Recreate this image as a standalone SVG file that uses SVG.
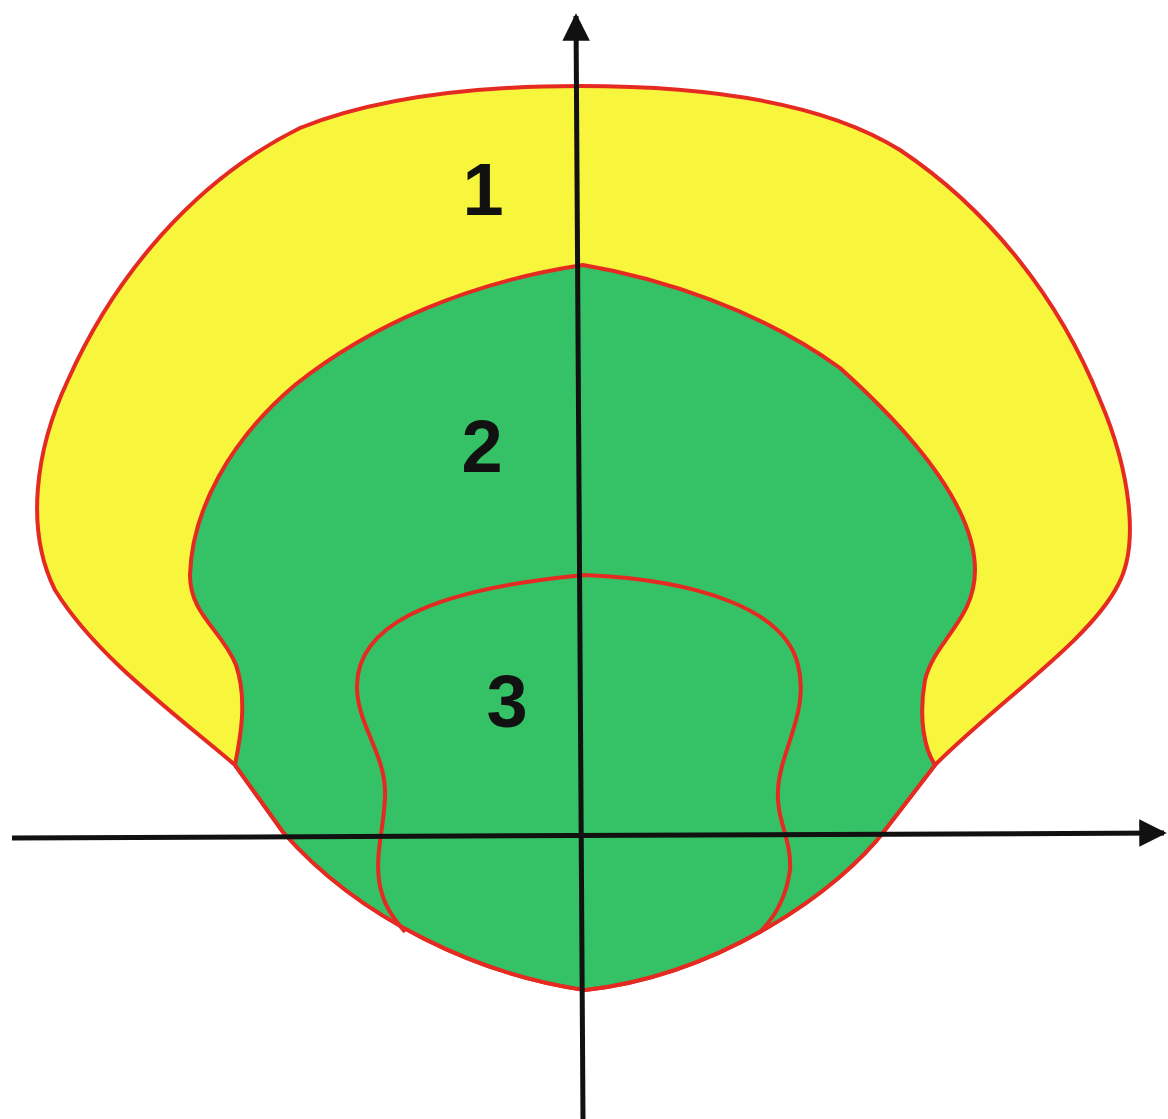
<svg xmlns="http://www.w3.org/2000/svg" width="1168" height="1119" viewBox="0 0 1168 1119">
<style>
.reg{stroke:#e52a22;stroke-width:4;stroke-linejoin:round}
.y{fill:#f7f53c}
.g{fill:#35c165}
.ax{stroke:#111;stroke-width:5;fill:none}
.lbl{font-family:"Liberation Sans",Arial,sans-serif;font-weight:bold;font-size:74px;fill:#111;text-anchor:middle}
</style>
<defs>
<marker id="ah" viewBox="0 0 10 10" refX="9" refY="5" markerWidth="5.5" markerHeight="5.5" orient="auto" markerUnits="strokeWidth">
<path d="M0,0 L10,5 L0,10 Z" fill="#111"/>
</marker>
</defs>
<rect width="1168" height="1119" fill="#fff"/>
<g id="region1">
<path class="reg y" d="M580,86 C700,86 820,100 900,150 C990,210 1060,300 1100,400 C1130,470 1140,545 1118,585 C1090,640 1000,700 935,765 L885,830 C840,890 720,975 585,990 C480,975 360,920 283,832 L235,765 C170,710 95,655 55,590 C25,530 35,450 68,380 C115,275 195,180 300,128 C380,96 480,86 580,86 Z"/>
</g>
<g id="region2">
<path class="reg g" d="M583,265 C660,278 760,310 840,368 C920,440 975,510 975,570 C975,620 935,640 925,680 C918,720 925,750 935,765 L885,830 C840,890 720,975 585,990 C480,975 360,920 283,832 L235,765 C240,740 248,700 236,665 C222,630 190,615 190,575 C192,510 230,440 295,385 C370,325 470,282 583,265 Z"/>
</g>
<g id="region3">
<path class="reg" fill="none" d="M405,932 C395,920 382,905 379,880 C375,850 386,820 385,790 C384,752 356,722 357,685 C358,630 420,590 585,575 C700,580 785,610 798,665 C810,712 780,750 778,790 C776,820 792,840 790,870 C786,900 772,920 760,932"/>
</g>
<g id="region-labels">
<text class="lbl" x="483" y="215">1</text>
<text class="lbl" x="482" y="472">2</text>
<text class="lbl" x="507" y="727">3</text>
</g>
<g id="connectors">
<path class="ax" d="M12,838 L1164,833" marker-end="url(#ah)"/>
<path class="ax" d="M583,1119 L576,16" marker-end="url(#ah)"/>
</g>
</svg>
